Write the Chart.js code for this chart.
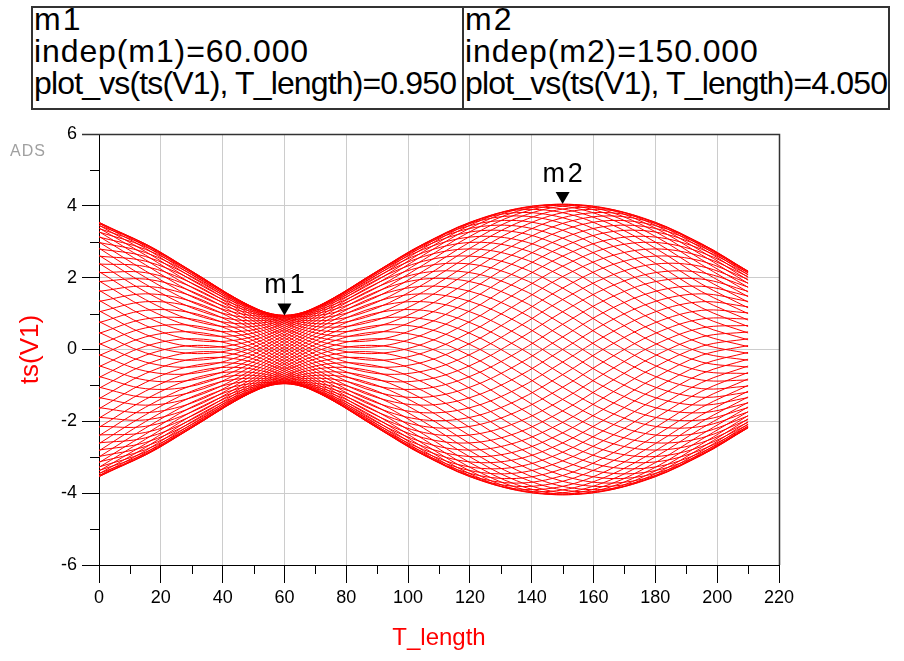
<!DOCTYPE html>
<html>
<head>
<meta charset="utf-8">
<title>ts(V1) vs T_length</title>
<script src="https://cdn.jsdelivr.net/npm/chart.js"></script>
<style>
  body { margin: 0; background: #fff; }
  #wrap { position: relative; width: 904px; height: 661px; overflow: hidden; background: #fff; }
  #chart { position: absolute; left: 0; top: 0; }
  .mk { position: absolute; top: 6px; height: 104px; border: 2px solid #333; box-sizing: border-box; overflow: hidden; background: #fff; }
  .mk div { position: absolute; left: 1px; top: -5px; font-family: 'Liberation Sans', Arial, sans-serif; font-size: 32px; line-height: 32px; color: #000; white-space: nowrap; }
  .l1 { letter-spacing: 2px; }
  .l2 { letter-spacing: 0.9px; }
  .l3 { letter-spacing: -0.85px; }
  #ads { position: absolute; left: 10px; top: 142px; font-family: 'Liberation Sans', Arial, sans-serif; font-size: 16px; letter-spacing: 1px; color: #a0a0a0; }
</style>
</head>
<body>
<div id="wrap">
  <canvas id="chart" width="904" height="661"></canvas>
  <div class="mk" style="left:31px;width:433px"><div id="box1"></div></div>
  <div class="mk" style="left:462px;width:428px"><div id="box2"></div></div>
  <div id="ads">ADS</div>
</div>
<script>
// T_length sample points
var tLength = [0, 15, 30, 45, 60, 75, 90, 105, 120, 135, 150, 165, 180, 195, 210];

// ts(V1): one curve per time point
var t00 = [3.28, 2.5, 1.73, 1.16, 0.95, 1.16, 1.73, 2.5, 3.28, 3.84, 4.05, 3.84, 3.28, 2.5, 1.73];
var t01 = [3.38, 2.63, 1.84, 1.22, 0.95, 1.09, 1.6, 2.36, 3.15, 3.76, 4.03, 3.9, 3.38, 2.63, 1.84];
var t02 = [3.46, 2.73, 1.93, 1.28, 0.94, 1.01, 1.47, 2.19, 2.99, 3.65, 3.99, 3.92, 3.46, 2.73, 1.93];
var t03 = [3.51, 2.82, 2.01, 1.32, 0.92, 0.92, 1.32, 2.01, 2.82, 3.51, 3.91, 3.91, 3.51, 2.82, 2.01];
var t04 = [3.54, 2.88, 2.08, 1.35, 0.89, 0.82, 1.16, 1.82, 2.62, 3.35, 3.81, 3.88, 3.54, 2.88, 2.08];
var t05 = [3.54, 2.92, 2.13, 1.38, 0.86, 0.72, 1.0, 1.61, 2.4, 3.16, 3.67, 3.81, 3.54, 2.92, 2.13];
var t06 = [3.51, 2.94, 2.17, 1.39, 0.82, 0.62, 0.82, 1.39, 2.17, 2.94, 3.51, 3.72, 3.51, 2.94, 2.17];
var t07 = [3.45, 2.94, 2.18, 1.39, 0.78, 0.5, 0.64, 1.16, 1.91, 2.7, 3.32, 3.59, 3.45, 2.94, 2.18];
var t08 = [3.37, 2.91, 2.18, 1.39, 0.73, 0.39, 0.46, 0.92, 1.65, 2.45, 3.1, 3.44, 3.37, 2.91, 2.18];
var t09 = [3.27, 2.86, 2.17, 1.37, 0.67, 0.27, 0.27, 0.67, 1.37, 2.17, 2.86, 3.27, 3.27, 2.86, 2.17];
var t10 = [3.13, 2.79, 2.14, 1.34, 0.61, 0.15, 0.08, 0.42, 1.08, 1.88, 2.6, 3.06, 3.13, 2.79, 2.14];
var t11 = [2.98, 2.7, 2.09, 1.3, 0.55, 0.03, -0.11, 0.16, 0.78, 1.57, 2.32, 2.84, 2.98, 2.7, 2.09];
var t12 = [2.8, 2.59, 2.03, 1.25, 0.48, -0.09, -0.3, -0.09, 0.48, 1.25, 2.03, 2.59, 2.8, 2.59, 2.03];
var t13 = [2.6, 2.46, 1.95, 1.19, 0.4, -0.21, -0.49, -0.35, 0.17, 0.92, 1.71, 2.33, 2.6, 2.46, 1.95];
var t14 = [2.38, 2.31, 1.85, 1.12, 0.33, -0.33, -0.67, -0.6, -0.14, 0.59, 1.39, 2.04, 2.38, 2.31, 1.85];
var t15 = [2.14, 2.14, 1.74, 1.05, 0.25, -0.45, -0.85, -0.85, -0.45, 0.25, 1.05, 1.74, 2.14, 2.14, 1.74];
var t16 = [1.89, 1.96, 1.62, 0.96, 0.17, -0.56, -1.02, -1.09, -0.75, -0.1, 0.7, 1.43, 1.89, 1.96, 1.62];
var t17 = [1.62, 1.76, 1.49, 0.87, 0.08, -0.67, -1.19, -1.33, -1.05, -0.44, 0.35, 1.11, 1.62, 1.76, 1.49];
var t18 = [1.34, 1.55, 1.34, 0.78, 0, -0.78, -1.34, -1.55, -1.34, -0.78, 0, 0.78, 1.34, 1.55, 1.34];
var t19 = [1.05, 1.33, 1.19, 0.67, -0.08, -0.87, -1.49, -1.76, -1.62, -1.11, -0.35, 0.44, 1.05, 1.33, 1.19];
var t20 = [0.75, 1.09, 1.02, 0.56, -0.17, -0.96, -1.62, -1.96, -1.89, -1.43, -0.7, 0.1, 0.75, 1.09, 1.02];
var t21 = [0.45, 0.85, 0.85, 0.45, -0.25, -1.05, -1.74, -2.14, -2.14, -1.74, -1.05, -0.25, 0.45, 0.85, 0.85];
var t22 = [0.14, 0.6, 0.67, 0.33, -0.33, -1.12, -1.85, -2.31, -2.38, -2.04, -1.39, -0.59, 0.14, 0.6, 0.67];
var t23 = [-0.17, 0.35, 0.49, 0.21, -0.4, -1.19, -1.95, -2.46, -2.6, -2.33, -1.71, -0.92, -0.17, 0.35, 0.49];
var t24 = [-0.48, 0.09, 0.3, 0.09, -0.48, -1.25, -2.03, -2.59, -2.8, -2.59, -2.03, -1.25, -0.48, 0.09, 0.3];
var t25 = [-0.78, -0.16, 0.11, -0.03, -0.55, -1.3, -2.09, -2.7, -2.98, -2.84, -2.32, -1.57, -0.78, -0.16, 0.11];
var t26 = [-1.08, -0.42, -0.08, -0.15, -0.61, -1.34, -2.14, -2.79, -3.13, -3.06, -2.6, -1.88, -1.08, -0.42, -0.08];
var t27 = [-1.37, -0.67, -0.27, -0.27, -0.67, -1.37, -2.17, -2.86, -3.27, -3.27, -2.86, -2.17, -1.37, -0.67, -0.27];
var t28 = [-1.65, -0.92, -0.46, -0.39, -0.73, -1.39, -2.18, -2.91, -3.37, -3.44, -3.1, -2.45, -1.65, -0.92, -0.46];
var t29 = [-1.91, -1.16, -0.64, -0.5, -0.78, -1.39, -2.18, -2.94, -3.45, -3.59, -3.32, -2.7, -1.91, -1.16, -0.64];
var t30 = [-2.17, -1.39, -0.82, -0.62, -0.82, -1.39, -2.17, -2.94, -3.51, -3.72, -3.51, -2.94, -2.17, -1.39, -0.82];
var t31 = [-2.4, -1.61, -1.0, -0.72, -0.86, -1.38, -2.13, -2.92, -3.54, -3.81, -3.67, -3.16, -2.4, -1.61, -1.0];
var t32 = [-2.62, -1.82, -1.16, -0.82, -0.89, -1.35, -2.08, -2.88, -3.54, -3.88, -3.81, -3.35, -2.62, -1.82, -1.16];
var t33 = [-2.82, -2.01, -1.32, -0.92, -0.92, -1.32, -2.01, -2.82, -3.51, -3.91, -3.91, -3.51, -2.82, -2.01, -1.32];
var t34 = [-2.99, -2.19, -1.47, -1.01, -0.94, -1.28, -1.93, -2.73, -3.46, -3.92, -3.99, -3.65, -2.99, -2.19, -1.47];
var t35 = [-3.15, -2.36, -1.6, -1.09, -0.95, -1.22, -1.84, -2.63, -3.38, -3.9, -4.03, -3.76, -3.15, -2.36, -1.6];
var t36 = [-3.28, -2.5, -1.73, -1.16, -0.95, -1.16, -1.73, -2.5, -3.28, -3.84, -4.05, -3.84, -3.28, -2.5, -1.73];
var t37 = [-3.38, -2.63, -1.84, -1.22, -0.95, -1.09, -1.6, -2.36, -3.15, -3.76, -4.03, -3.9, -3.38, -2.63, -1.84];
var t38 = [-3.46, -2.73, -1.93, -1.28, -0.94, -1.01, -1.47, -2.19, -2.99, -3.65, -3.99, -3.92, -3.46, -2.73, -1.93];
var t39 = [-3.51, -2.82, -2.01, -1.32, -0.92, -0.92, -1.32, -2.01, -2.82, -3.51, -3.91, -3.91, -3.51, -2.82, -2.01];
var t40 = [-3.54, -2.88, -2.08, -1.35, -0.89, -0.82, -1.16, -1.82, -2.62, -3.35, -3.81, -3.88, -3.54, -2.88, -2.08];
var t41 = [-3.54, -2.92, -2.13, -1.38, -0.86, -0.72, -1.0, -1.61, -2.4, -3.16, -3.67, -3.81, -3.54, -2.92, -2.13];
var t42 = [-3.51, -2.94, -2.17, -1.39, -0.82, -0.62, -0.82, -1.39, -2.17, -2.94, -3.51, -3.72, -3.51, -2.94, -2.17];
var t43 = [-3.45, -2.94, -2.18, -1.39, -0.78, -0.5, -0.64, -1.16, -1.91, -2.7, -3.32, -3.59, -3.45, -2.94, -2.18];
var t44 = [-3.37, -2.91, -2.18, -1.39, -0.73, -0.39, -0.46, -0.92, -1.65, -2.45, -3.1, -3.44, -3.37, -2.91, -2.18];
var t45 = [-3.27, -2.86, -2.17, -1.37, -0.67, -0.27, -0.27, -0.67, -1.37, -2.17, -2.86, -3.27, -3.27, -2.86, -2.17];
var t46 = [-3.13, -2.79, -2.14, -1.34, -0.61, -0.15, -0.08, -0.42, -1.08, -1.88, -2.6, -3.06, -3.13, -2.79, -2.14];
var t47 = [-2.98, -2.7, -2.09, -1.3, -0.55, -0.03, 0.11, -0.16, -0.78, -1.57, -2.32, -2.84, -2.98, -2.7, -2.09];
var t48 = [-2.8, -2.59, -2.03, -1.25, -0.48, 0.09, 0.3, 0.09, -0.48, -1.25, -2.03, -2.59, -2.8, -2.59, -2.03];
var t49 = [-2.6, -2.46, -1.95, -1.19, -0.4, 0.21, 0.49, 0.35, -0.17, -0.92, -1.71, -2.33, -2.6, -2.46, -1.95];
var t50 = [-2.38, -2.31, -1.85, -1.12, -0.33, 0.33, 0.67, 0.6, 0.14, -0.59, -1.39, -2.04, -2.38, -2.31, -1.85];
var t51 = [-2.14, -2.14, -1.74, -1.05, -0.25, 0.45, 0.85, 0.85, 0.45, -0.25, -1.05, -1.74, -2.14, -2.14, -1.74];
var t52 = [-1.89, -1.96, -1.62, -0.96, -0.17, 0.56, 1.02, 1.09, 0.75, 0.1, -0.7, -1.43, -1.89, -1.96, -1.62];
var t53 = [-1.62, -1.76, -1.49, -0.87, -0.08, 0.67, 1.19, 1.33, 1.05, 0.44, -0.35, -1.11, -1.62, -1.76, -1.49];
var t54 = [-1.34, -1.55, -1.34, -0.78, 0, 0.78, 1.34, 1.55, 1.34, 0.78, 0, -0.78, -1.34, -1.55, -1.34];
var t55 = [-1.05, -1.33, -1.19, -0.67, 0.08, 0.87, 1.49, 1.76, 1.62, 1.11, 0.35, -0.44, -1.05, -1.33, -1.19];
var t56 = [-0.75, -1.09, -1.02, -0.56, 0.17, 0.96, 1.62, 1.96, 1.89, 1.43, 0.7, -0.1, -0.75, -1.09, -1.02];
var t57 = [-0.45, -0.85, -0.85, -0.45, 0.25, 1.05, 1.74, 2.14, 2.14, 1.74, 1.05, 0.25, -0.45, -0.85, -0.85];
var t58 = [-0.14, -0.6, -0.67, -0.33, 0.33, 1.12, 1.85, 2.31, 2.38, 2.04, 1.39, 0.59, -0.14, -0.6, -0.67];
var t59 = [0.17, -0.35, -0.49, -0.21, 0.4, 1.19, 1.95, 2.46, 2.6, 2.33, 1.71, 0.92, 0.17, -0.35, -0.49];
var t60 = [0.48, -0.09, -0.3, -0.09, 0.48, 1.25, 2.03, 2.59, 2.8, 2.59, 2.03, 1.25, 0.48, -0.09, -0.3];
var t61 = [0.78, 0.16, -0.11, 0.03, 0.55, 1.3, 2.09, 2.7, 2.98, 2.84, 2.32, 1.57, 0.78, 0.16, -0.11];
var t62 = [1.08, 0.42, 0.08, 0.15, 0.61, 1.34, 2.14, 2.79, 3.13, 3.06, 2.6, 1.88, 1.08, 0.42, 0.08];
var t63 = [1.37, 0.67, 0.27, 0.27, 0.67, 1.37, 2.17, 2.86, 3.27, 3.27, 2.86, 2.17, 1.37, 0.67, 0.27];
var t64 = [1.65, 0.92, 0.46, 0.39, 0.73, 1.39, 2.18, 2.91, 3.37, 3.44, 3.1, 2.45, 1.65, 0.92, 0.46];
var t65 = [1.91, 1.16, 0.64, 0.5, 0.78, 1.39, 2.18, 2.94, 3.45, 3.59, 3.32, 2.7, 1.91, 1.16, 0.64];
var t66 = [2.17, 1.39, 0.82, 0.62, 0.82, 1.39, 2.17, 2.94, 3.51, 3.72, 3.51, 2.94, 2.17, 1.39, 0.82];
var t67 = [2.4, 1.61, 1.0, 0.72, 0.86, 1.38, 2.13, 2.92, 3.54, 3.81, 3.67, 3.16, 2.4, 1.61, 1.0];
var t68 = [2.62, 1.82, 1.16, 0.82, 0.89, 1.35, 2.08, 2.88, 3.54, 3.88, 3.81, 3.35, 2.62, 1.82, 1.16];
var t69 = [2.82, 2.01, 1.32, 0.92, 0.92, 1.32, 2.01, 2.82, 3.51, 3.91, 3.91, 3.51, 2.82, 2.01, 1.32];
var t70 = [2.99, 2.19, 1.47, 1.01, 0.94, 1.28, 1.93, 2.73, 3.46, 3.92, 3.99, 3.65, 2.99, 2.19, 1.47];
var t71 = [3.15, 2.36, 1.6, 1.09, 0.95, 1.22, 1.84, 2.63, 3.38, 3.9, 4.03, 3.76, 3.15, 2.36, 1.6];

var snapshots = [t00, t01, t02, t03, t04, t05, t06, t07, t08, t09, t10, t11, t12, t13, t14, t15, t16, t17,
  t18, t19, t20, t21, t22, t23, t24, t25, t26, t27, t28, t29, t30, t31, t32, t33, t34, t35,
  t36, t37, t38, t39, t40, t41, t42, t43, t44, t45, t46, t47, t48, t49, t50, t51, t52, t53,
  t54, t55, t56, t57, t58, t59, t60, t61, t62, t63, t64, t65, t66, t67, t68, t69, t70, t71];

// axis ticks
var xTicks = [0, 20, 40, 60, 80, 100, 120, 140, 160, 180, 200, 220];
var xMinor = [10, 30, 50, 70, 90, 110, 130, 150, 170, 190, 210];
var yTicks = [-6, -4, -2, 0, 2, 4, 6];
var yMinor = [-5, -3, -1, 1, 3, 5];

// markers
var markerNames = ['m1', 'm2'];
var markerX = [60, 150];
var markerY = [0.95, 4.05];

function markerText(i) {
  return '<span class="l1">' + markerNames[i] + '</span><br>' +
    '<span class="l2">indep(' + markerNames[i] + ')=' + markerX[i].toFixed(3) + '</span><br>' +
    '<span class="l3">plot_vs(ts(V1), T_length)=' + markerY[i].toFixed(3) + '</span>';
}
document.getElementById('box1').innerHTML = markerText(0);
document.getElementById('box2').innerHTML = markerText(1);

var fontFam = "'Liberation Sans', Arial, sans-serif";

var frame = {
  id: 'frame',
  beforeDraw: function (chart) {
    var c = chart.ctx;
    c.save();
    c.fillStyle = '#fff';
    c.fillRect(0, 0, chart.width, chart.height);
    c.restore();
  },
  afterDraw: function (chart) {
    var c = chart.ctx;
    var a = chart.chartArea;
    var xs = chart.scales.x;
    var ys = chart.scales.y;
    c.save();
    // top and right border
    c.strokeStyle = '#333';
    c.lineWidth = 1.5;
    c.beginPath();
    c.moveTo(a.left - 17, a.top + 0.5);
    c.lineTo(a.right + 0.5, a.top + 0.5);
    c.lineTo(a.right + 0.5, a.bottom);
    c.stroke();
    // minor ticks
    c.strokeStyle = '#000';
    c.lineWidth = 1;
    c.beginPath();
    xMinor.forEach(function (v) {
      var p = Math.round(xs.getPixelForValue(v)) + 0.5;
      c.moveTo(p, a.bottom);
      c.lineTo(p, a.bottom + 9);
    });
    yMinor.forEach(function (v) {
      var p = Math.round(ys.getPixelForValue(v)) + 0.5;
      c.moveTo(a.left - 9, p);
      c.lineTo(a.left, p);
    });
    c.stroke();
    // markers
    c.fillStyle = '#000';
    c.font = '27px ' + fontFam;
    c.letterSpacing = '3px';
    c.textAlign = 'center';
    c.textBaseline = 'alphabetic';
    markerNames.forEach(function (name, i) {
      var px = xs.getPixelForValue(markerX[i]);
      var py = ys.getPixelForValue(markerY[i]);
      c.beginPath();
      c.moveTo(px, py);
      c.lineTo(px - 7, py - 12);
      c.lineTo(px + 7, py - 12);
      c.closePath();
      c.fill();
      c.fillText(name, px + 1.5, py - 22);
    });
    c.restore();
  }
};

var datasets = snapshots.map(function (v) {
  return {
    data: v.map(function (y, i) { return { x: tLength[i], y: y }; }),
    borderColor: '#ff0000',
    borderWidth: 1,
    pointRadius: 0,
    tension: 0.35,
    fill: false
  };
});

const ctx = document.getElementById('chart');

new Chart(ctx, {
  type: 'line',
  data: { datasets: datasets },
  options: {
    responsive: false,
    animation: false,
    events: [],
    layout: { padding: { top: 134, right: 125, bottom: 0, left: 0 } },
    plugins: { legend: { display: false }, tooltip: { enabled: false } },
    scales: {
      x: {
        type: 'linear',
        min: 0,
        max: 220,
        afterBuildTicks: function (s) { s.ticks = xTicks.map(function (v) { return { value: v }; }); },
        afterFit: function (s) { s.height = 96; },
        grid: { color: '#cccccc', tickColor: '#000', tickLength: 18, lineWidth: 1 },
        border: { display: true, color: '#000', width: 1 },
        ticks: { color: '#000', font: { family: fontFam, size: 18 }, padding: 4, maxRotation: 0, autoSkip: false },
        title: { display: true, text: 'T_length', color: '#ff0000', font: { family: fontFam, size: 24 }, padding: { top: 0, bottom: 8 } }
      },
      y: {
        type: 'linear',
        min: -6,
        max: 6,
        afterBuildTicks: function (s) { s.ticks = yTicks.map(function (v) { return { value: v }; }); },
        afterFit: function (s) { s.width = 99; },
        grid: { color: '#cccccc', tickColor: '#000', tickLength: 17, lineWidth: 1 },
        border: { display: true, color: '#000', width: 1 },
        ticks: { color: '#000', font: { family: fontFam, size: 18 }, padding: 5, autoSkip: false },
        title: { display: true, text: 'ts(V1)', color: '#ff0000', font: { family: fontFam, size: 26 }, padding: { top: 15, bottom: 0 } }
      }
    }
  },
  plugins: [frame]
});
</script>
</body>
</html>
